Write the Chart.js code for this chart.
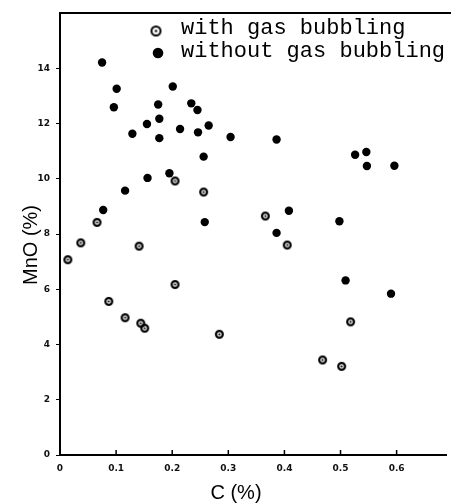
<!DOCTYPE html>
<html>
<head>
<meta charset="utf-8">
<script src="https://cdn.jsdelivr.net/npm/chart.js@4"></script>
<style>html,body{margin:0;padding:0;background:#fff;overflow:hidden}canvas{display:block}</style>
</head>
<body>
<canvas id="c" width="451" height="503"></canvas>
<script>
// Data
const withGasC   = [0.014,0.037,0.066,0.087,0.116,0.141,0.144,0.151,0.205,0.205,0.256,0.284,0.366,0.405,0.468,0.502,0.518];
const withGasMnO = [7.07,7.68,8.42,5.56,4.97,7.56,4.77,4.59,9.92,6.17,9.52,4.37,8.65,7.60,3.44,3.21,4.82];
const withoutGasC   = [0.075,0.101,0.096,0.201,0.175,0.234,0.245,0.177,0.155,0.129,0.177,0.214,0.246,0.265,0.304,0.386,0.256,0.526,0.546,0.547,0.596,0.195,0.156,0.116,0.077,0.258,0.408,0.386,0.498,0.509,0.590];
const withoutGasMnO = [14.21,13.26,12.59,13.34,12.69,12.73,12.49,12.17,11.98,11.63,11.47,11.80,11.68,11.93,11.51,11.42,10.80,10.87,10.97,10.46,10.47,10.20,10.03,9.57,8.87,8.43,8.84,8.04,8.46,6.32,5.84];
const xTickValues = [0,0.1,0.2,0.3,0.4,0.5,0.6];
const yTickValues = [0,2,4,6,8,10,12,14];
const seriesNames = ['with gas bubbling','without gas bubbling'];
const xTitle = 'C (%)';
const yTitle = 'MnO (%)';

function toPoints(xs, ys){ return xs.map((x,i)=>({x:x,y:ys[i]})); }

// open circle with centre dot marker
function makeOpen(r, lw, dot){
  const s = Math.ceil(2*r + lw + 2);
  const cv = document.createElement('canvas');
  cv.width = s; cv.height = s;
  const c = cv.getContext('2d');
  c.strokeStyle = '#000'; c.lineWidth = lw;
  c.beginPath(); c.arc(s/2, s/2, r, 0, Math.PI*2); c.stroke();
  c.fillStyle = '#000';
  c.beginPath(); c.arc(s/2, s/2, dot, 0, Math.PI*2); c.fill();
  return cv;
}
const openMarker = makeOpen(3.4, 2.2, 1.1);
const openLegend = makeOpen(4.5, 2.0, 1.2);

const decor = {
  id:'decor',
  afterDraw(chart){
    const ctx = chart.ctx, ca = chart.chartArea, xs = chart.scales.x;
    ctx.save();
    ctx.strokeStyle = '#000';
    // top frame line
    ctx.lineWidth = 2;
    ctx.beginPath(); ctx.moveTo(ca.left - 1, ca.top); ctx.lineTo(chart.width, ca.top); ctx.stroke();
    // inner x tick marks
    ctx.lineWidth = 1.5;
    xTickValues.forEach(v=>{
      if (v === 0) return;
      const px = xs.getPixelForValue(v);
      ctx.beginPath(); ctx.moveTo(px, ca.bottom); ctx.lineTo(px, ca.bottom - 5); ctx.stroke();
    });
    // legend
    ctx.fillStyle = '#000';
    ctx.font = '22px "Liberation Mono"';
    ctx.textBaseline = 'alphabetic';
    ctx.textAlign = 'left';
    ctx.drawImage(openLegend, 156 - openLegend.width/2, 31 - openLegend.height/2);
    ctx.fillText(seriesNames[0], 181, 34);
    ctx.beginPath(); ctx.arc(158, 53, 5.3, 0, Math.PI*2); ctx.fill();
    ctx.fillText(seriesNames[1], 181, 57);
    // axis titles
    ctx.font = '20px "Liberation Sans"';
    ctx.textAlign = 'center';
    ctx.textBaseline = 'middle';
    ctx.fillText(xTitle, 236, 493);
    ctx.translate(31, 245);
    ctx.rotate(-Math.PI/2);
    ctx.fillText(yTitle, 0, 0);
    ctx.restore();
  }
};

const tickFont = {family:'"DejaVu Sans"', size:9, weight:'bold'};

new Chart(document.getElementById('c'), {
  type:'scatter',
  data:{
    datasets:[
      {label:seriesNames[0], data:toPoints(withGasC, withGasMnO), pointStyle:openMarker, radius:4},
      {label:seriesNames[1], data:toPoints(withoutGasC, withoutGasMnO), pointStyle:'circle', radius:4.2, backgroundColor:'#000', borderWidth:0}
    ]
  },
  options:{
    responsive:false, animation:false,
    layout:{padding:{top:13,left:0,right:0,bottom:0}},
    plugins:{legend:{display:false}, tooltip:{enabled:false}},
    scales:{
      x:{
        type:'linear', min:0, max:0.688,
        afterBuildTicks(s){ s.ticks = xTickValues.map(v=>({value:v})); },
        afterFit(s){ s.height = 48; },
        ticks:{font:tickFont, color:'#111', padding:8, maxRotation:0, autoSkip:false,
               callback:(v)=> v===0 ? '0' : Number(v).toFixed(1)},
        grid:{drawOnChartArea:false, drawTicks:false},
        border:{display:true, width:2, color:'#000'}
      },
      y:{
        type:'linear', min:0, max:16,
        afterBuildTicks(s){ s.ticks = yTickValues.map(v=>({value:v})); },
        afterFit(s){ s.width = 60; },
        ticks:{font:tickFont, color:'#111', padding:6, autoSkip:false,
               callback:(v)=> String(v)},
        grid:{drawOnChartArea:false, drawTicks:true, tickLength:4, tickWidth:1, tickColor:'#000'},
        border:{display:true, width:2, color:'#000'}
      }
    }
  },
  plugins:[decor]
});
</script>
</body>
</html>
